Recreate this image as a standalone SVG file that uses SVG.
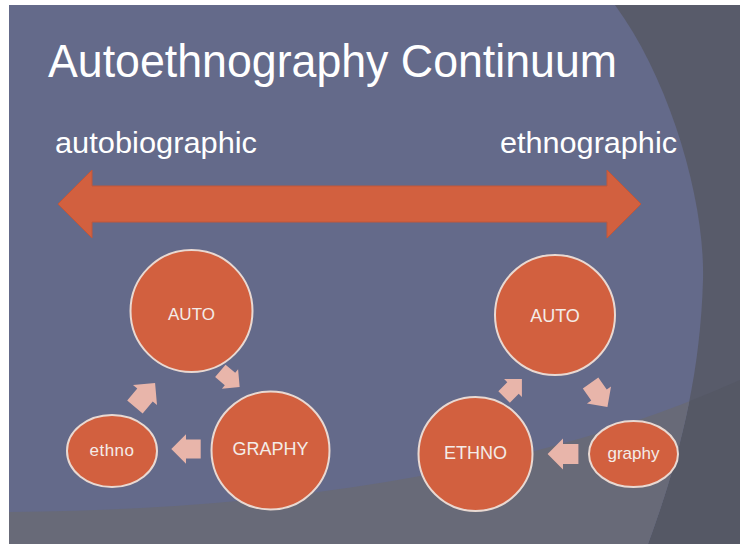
<svg xmlns="http://www.w3.org/2000/svg" width="740" height="544" viewBox="0 0 740 544">
<style>
.title{font-family:"Liberation Sans",Arial,sans-serif;fill:#ffffff;}
.lbl{font-family:"Liberation Sans",Arial,sans-serif;fill:#f4ece8;text-anchor:middle;}
.node{fill:#d2603f;stroke:#e9d9d2;stroke-width:2;}
.sm{fill:#e8b5aa;}
</style>
<defs>
<clipPath id="slide"><rect x="9" y="5" width="731" height="539"/></clipPath>
<clipPath id="oval"><path d="M615,5 C670,80 705,200 703,280 C700,385 675,470 648,544 L0,544 L0,5 Z"/></clipPath>
<path id="blk" d="M-14,-9 L0,-9 L0,-14 L14,0 L0,14 L0,9 L-14,9 Z"/>
</defs>
<rect x="0" y="0" width="740" height="544" fill="#ffffff"/>
<g id="background" clip-path="url(#slide)">
<rect x="0" y="0" width="740" height="544" fill="#585b6a"/>
<path d="M0,512 Q450,510 740,380 L740,544 L0,544 Z" fill="#555865"/>
<path d="M615,5 C670,80 705,200 703,280 C700,385 675,470 648,544 L0,544 L0,5 Z" fill="#646a8a"/>
<path d="M0,512 Q450,510 740,380 L740,544 L0,544 Z" fill="#686a78" clip-path="url(#oval)"/>
</g>
<text class="title" x="48" y="77" font-size="46" textLength="569" lengthAdjust="spacingAndGlyphs">Autoethnography Continuum</text>
<text class="title" x="55" y="153" font-size="30" textLength="202" lengthAdjust="spacingAndGlyphs">autobiographic</text>
<text class="title" x="500" y="153" font-size="30" textLength="177" lengthAdjust="spacingAndGlyphs">ethnographic</text>
<g id="continuum">
<path d="M58,204 L92,170 L92,186 L607,186 L607,170 L641,204 L607,238 L607,222 L92,222 L92,238 Z" fill="#d2603f" stroke="#c0563a" stroke-width="1"/>
</g>
<g id="left-auto"><circle class="node" cx="191.5" cy="311" r="61"/><text class="lbl" x="191.5" y="320" font-size="17">AUTO</text></g>
<g id="left-ethno"><ellipse class="node" cx="112" cy="451" rx="45" ry="36"/><text class="lbl" x="112" y="456" font-size="17" letter-spacing="0.5">ethno</text></g>
<g id="left-graphy"><circle class="node" cx="270.5" cy="450.5" r="59"/><text class="lbl" x="270.5" y="455" font-size="18">GRAPHY</text></g>
<g id="right-auto"><circle class="node" cx="555" cy="315" r="60"/><text class="lbl" x="555" y="322" font-size="18">AUTO</text></g>
<g id="right-ethno"><circle class="node" cx="475.5" cy="454" r="57"/><text class="lbl" x="475.5" y="459" font-size="18">ETHNO</text></g>
<g id="right-graphy"><ellipse class="node" cx="633.5" cy="454" rx="44.5" ry="33"/><text class="lbl" x="633.5" y="459" font-size="17">graphy</text></g>
<g id="connectors">
<use href="#blk" class="sm" transform="translate(145,395) rotate(-50) scale(1.12)"/>
<use href="#blk" class="sm" transform="translate(230,379) rotate(40) scale(0.9)"/>
<use href="#blk" class="sm" transform="translate(186,449) rotate(180) scale(1.05)"/>
<use href="#blk" class="sm" transform="translate(513,388) rotate(-45) scale(0.9)"/>
<use href="#blk" class="sm" transform="translate(599,395) rotate(55) scale(1.05)"/>
<use href="#blk" class="sm" transform="translate(563,454) rotate(180) scale(1.1)"/>
</g>
</svg>
